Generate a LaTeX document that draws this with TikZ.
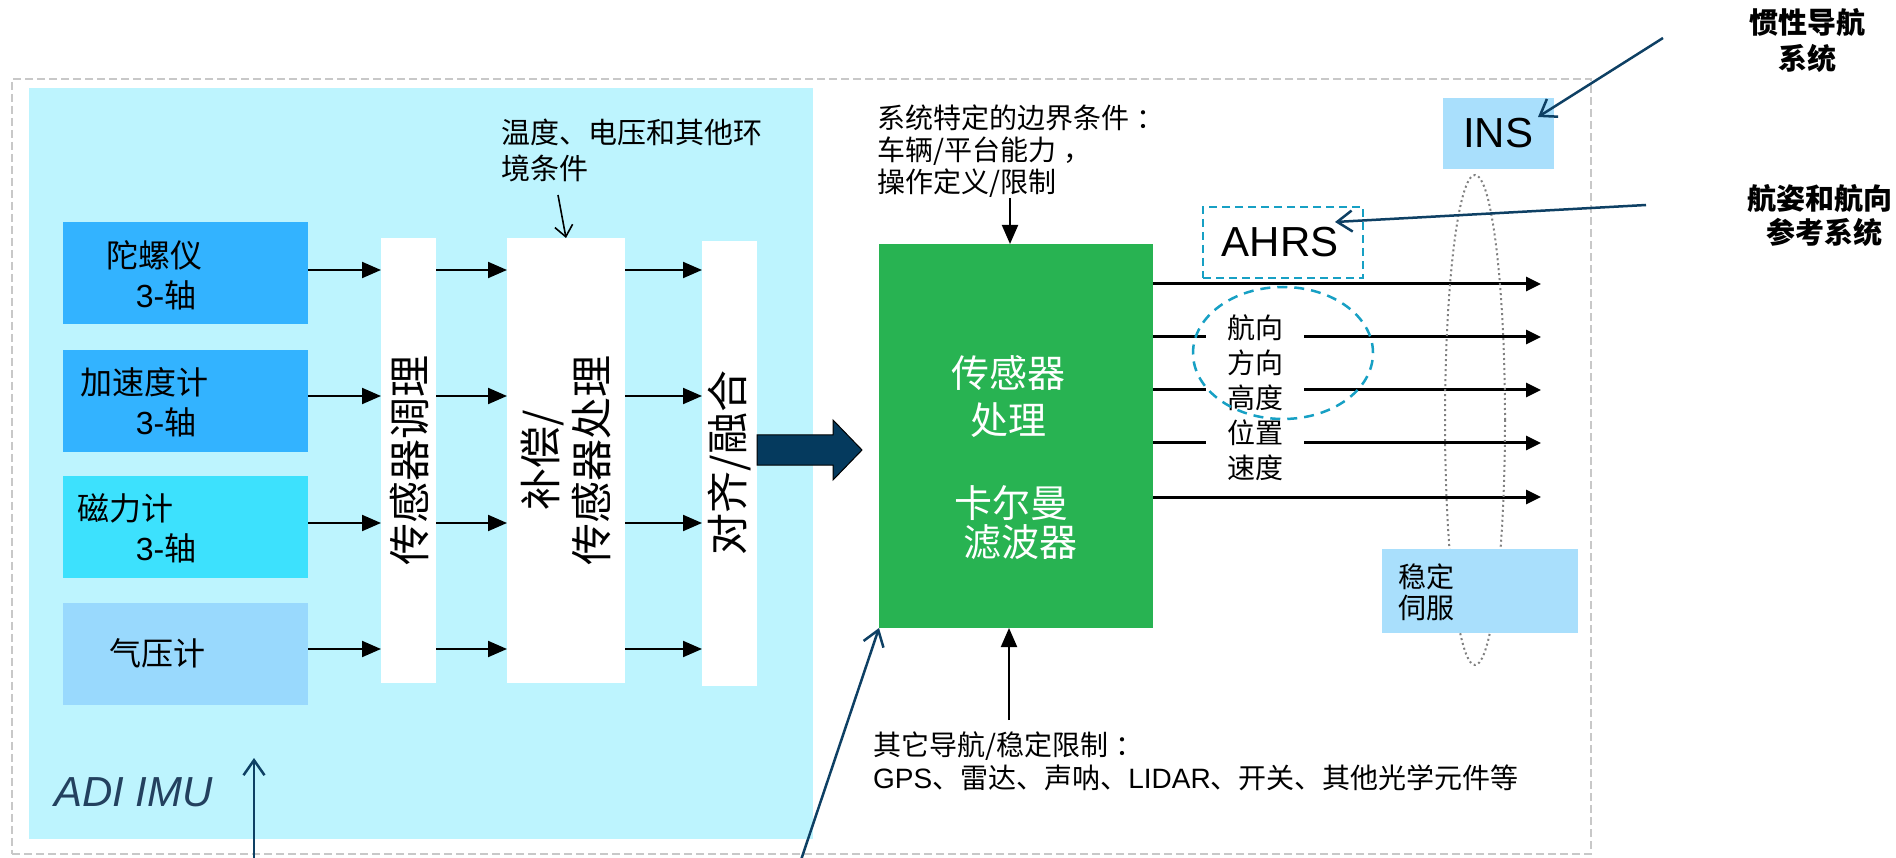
\documentclass[tikz,border=0pt]{standalone}
\usepackage{fontspec}
\setmainfont{Liberation Sans}
\newfontfamily\cjk{Noto Sans CJK SC}
\newfontfamily\lat{Liberation Sans}
\usetikzlibrary{arrows.meta,shapes.geometric,calc}
\definecolor{imubg}{RGB}{189,244,254}
\definecolor{sensA}{RGB}{51,179,255}
\definecolor{sensM}{RGB}{61,225,253}
\definecolor{sensB}{RGB}{153,217,253}
\definecolor{procgreen}{RGB}{40,179,82}
\definecolor{bignavy}{RGB}{5,58,94}
\definecolor{lblue}{RGB}{169,223,252}
\definecolor{dteal}{RGB}{23,160,196}
\definecolor{darkline}{RGB}{14,64,100}
\definecolor{imutext}{RGB}{35,65,95}
\definecolor{framegray}{RGB}{200,200,200}
\newcommand\fsz[2]{\fontsize{#1pt}{#2pt}\selectfont}
\begin{document}
\begin{tikzpicture}[x=1pt,y=-1pt,
  blk/.style={inner sep=0pt, outer sep=0pt},
  flow/.style={line width=2pt, -{Triangle[length=19pt,width=16pt]}},
  outarrow/.style={line width=3pt, -{Triangle[length=15pt,width=14pt]}},
  thinarrow/.style={line width=1.6pt, -{Straight Barb[length=11pt,width=18pt]}},
  navyarrow/.style={draw=darkline, line width=2.5pt, -{Straight Barb[length=15pt,width=21pt]}},
  senslbl/.style={inner sep=0pt, font=\cjk\fsz{32}{38}},
  vtext/.style={inner sep=0pt, rotate=90, align=center, font=\cjk\fsz{42}{51}},
  note/.style={inner sep=0pt, align=left, font=\cjk\fsz{28}{32}},
]
\useasboundingbox (0,0) rectangle (1896,858);
\fill[white] (0,0) rectangle (1896,858);

% frames
\node[blk, draw=framegray, line width=2.5pt, dash pattern=on 8pt off 4pt,
      minimum width=1579pt, minimum height=775pt] (frame) at (801.5,466.5) {};
\node[blk, fill=imubg, minimum width=784pt, minimum height=751pt] (imu) at (421,463.5) {};

% sensors
\node[blk, fill=sensA, minimum width=245pt, minimum height=102pt] (gyro)  at (185.5,273) {};
\node[blk, fill=sensA, minimum width=245pt, minimum height=102pt] (accel) at (185.5,401) {};
\node[blk, fill=sensM, minimum width=245pt, minimum height=102pt] (mag)   at (185.5,527) {};
\node[blk, fill=sensB, minimum width=245pt, minimum height=102pt] (baro)  at (185.5,654) {};

\node[senslbl] (gyroT1) at (154,255) {陀螺仪};
\node[senslbl] (gyroT2) at (166,295) {\lat 3-\cjk 轴};
\node[senslbl] (accT1) at (144,382) {加速度计};
\node[senslbl] (accT2) at (166,422) {\lat 3-\cjk 轴};
\node[senslbl] (magT1) at (125,508) {磁力计};
\node[senslbl] (magT2) at (166,548) {\lat 3-\cjk 轴};
\node[senslbl] (baroT) at (157,653) {气压计};

% processing bars
\node[blk, fill=white, minimum width=55pt, minimum height=445pt] (bar1) at (408.5,460.5) {};
\node[blk, fill=white, minimum width=118pt, minimum height=445pt] (bar2) at (566,460.5) {};
\node[blk, fill=white, minimum width=55pt, minimum height=445pt] (bar3) at (729.5,463.5) {};
\node[vtext] (bar1T) at (409,460) {传感器调理};
\node[vtext] (bar2T) at (566,460) {补偿/\\传感器处理};
\node[vtext] (bar3T) at (730,463) {对齐/融合};

% row arrows
\coordinate (r1) at (0,270);
\coordinate (r2) at (0,396);
\coordinate (r3) at (0,523);
\coordinate (r4) at (0,649);
\foreach \r/\s in {r1/gyro,r2/accel,r3/mag,r4/baro}{
  \draw[flow] (\r -| \s.east) -- (\r -| bar1.west);
  \draw[flow] (\r -| bar1.east) -- (\r -| bar2.west);
  \draw[flow] (\r -| bar2.east) -- (\r -| bar3.west);
}

% temperature note
\node[note, anchor=west, font=\cjk\fsz{29}{36}] (tempT) at (501,150) {温度、电压和其他环\\境条件};
\coordinate (tA) at (558,195);
\draw[thinarrow] (tA) -- (bar2.north);

% IMU label
\node[inner sep=0pt, anchor=west, text=imutext, font=\lat\itshape\fsz{42}{50}] (imuT) at (54,792) {ADI IMU};

% big arrow
\draw[fill=bignavy, draw=black, line width=1pt]
  (bar3.east |- 0,435) -- (833,435) -- (833,420) -- (862,450) -- (833,480) -- (833,465) -- (bar3.east |- 0,465) -- cycle;

% green processor
\node[blk, fill=procgreen, minimum width=274pt, minimum height=384pt] (green) at (1016,436) {};
\node[inner sep=0pt, align=center, text=white, font=\cjk\fsz{38}{47}] (greenT1) at (1008,396.5) {传感器\\处理};
\node[inner sep=0pt, align=center, text=white, font=\cjk\fsz{38}{39}] (greenT2) at (1011,522.5) {卡尔曼\\\hspace*{18pt}滤波器};

% system note
\node[note, anchor=west] (sysT) at (877,151) {系统特定的边界条件\hspace{7pt}：\\车辆/平台能力\hspace{7pt}，\\操作定义/限制};
\coordinate (sysA) at (1010,198);
\draw[flow] (sysA) -- (sysA |- green.north);

% bottom note
\node[note, anchor=west, font=\cjk\fsz{28}{33}] (botT) at (873,761.5) {其它导航/稳定限制\hspace{7pt}：\\\lat GPS\cjk 、雷达、声呐、\lat LIDAR\cjk 、开关、其他光学元件等};
\coordinate (botA) at (1009,720);
\draw[flow] (botA) -- (botA |- green.south);

% outputs
\coordinate (o1) at (1541,284);
\coordinate (o2) at (1541,337);
\coordinate (o3) at (1541,390);
\coordinate (o4) at (1541,443);
\coordinate (o5) at (1541,497);
\foreach \o in {o1,o2,o3,o4,o5}{
  \draw[outarrow] (green.east |- \o) -- (\o);
}
\node[blk, fill=white, minimum width=98pt, minimum height=175pt, align=center, font=\cjk\fsz{28}{35}] (navT) at (1255,397.5) {航向\\方向\\高度\\位置\\速度};
\node[blk, ellipse, draw=dteal, line width=2.5pt, dash pattern=on 10pt off 7pt,
      minimum width=180pt, minimum height=132pt] (ring) at (1283,353) {};

% AHRS
\node[blk, draw=dteal, line width=2pt, dash pattern=on 8pt off 5pt,
      minimum width=160pt, minimum height=71pt] (ahrs) at (1283,242.5) {};
\node[inner sep=0pt, font=\lat\fsz{42}{50}] (ahrsT) at (1280,242) {AHRS};

% dotted loop and boxes on right
\node[blk, ellipse, draw=gray, line width=2pt, dash pattern=on 2pt off 3pt,
      minimum width=60pt, minimum height=490pt] (loop) at (1475,420) {};
\node[blk, fill=lblue, minimum width=111pt, minimum height=71pt] (ins) at (1498.5,133.5) {};
\node[inner sep=0pt, font=\lat\fsz{42}{50}] (insT) at (1498,133) {INS};
\node[blk, fill=lblue, minimum width=196pt, minimum height=84pt] (stab) at (1480,591) {};
\node[note, anchor=west, font=\cjk\fsz{28}{31}] (stabT) at (1398,592.5) {稳定\\伺服};

% navy pointers
\coordinate (insFrom) at (1663,38);
\coordinate (insTip) at (1538,117);
\draw[navyarrow] (insFrom) -- (insTip);
\coordinate (ahrsFrom) at (1646,205);
\coordinate (ahrsTip) at (1335,222);
\draw[navyarrow] (ahrsFrom) -- (ahrsTip);
\coordinate (imuFrom) at (254,860);
\coordinate (imuTip) at (254,758);
\draw[navyarrow] (imuFrom) -- (imuTip);
\coordinate (grFrom) at (801,860);
\draw[navyarrow] (grFrom) -- (green.south west);

% right captions
\node[inner sep=0pt, align=center, font=\cjk\bfseries\fsz{29}{36}] (insCap) at (1807,41) {惯性导航\\系统};
\node[inner sep=0pt, align=center, font=\cjk\bfseries\fsz{29}{34}] (ahrsCap) at (1820,216) {航姿和航向\\\hspace*{8pt}参考系统};
\end{tikzpicture}
\end{document}
